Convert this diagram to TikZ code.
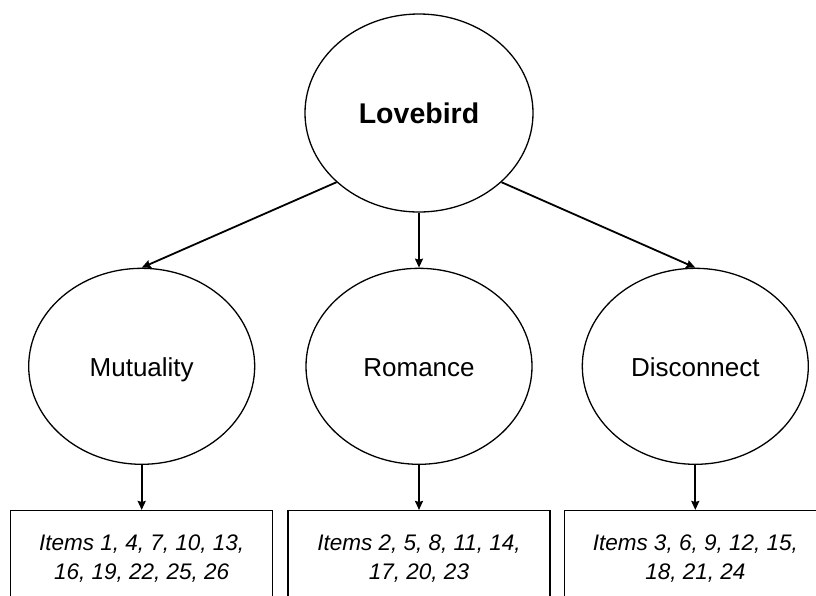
\documentclass[tikz,border=0pt]{standalone}
\usepackage{fontspec}
\setmainfont{Liberation Sans}
\usetikzlibrary{shapes.geometric,positioning,arrows.meta}

\begin{document}
\begin{tikzpicture}
[x=1pt,y=-1pt,
edge/.style={-{Stealth[length=9pt,width=8pt,inset=1pt]},line width=1.8pt},
bubble/.style={draw,ellipse,line width=1.3pt,minimum width=226pt,
minimum height=196pt,inner sep=0pt,text height=20pt,text depth=0pt,
font=\fontsize{26}{31}\selectfont},
itembox/.style={draw,rectangle,line width=1.3pt,minimum width=262pt,
inner ysep=24pt,align=center,font=\fontsize{22.5}{29}\selectfont\itshape}]
\useasboundingbox (0,0) rectangle (816,595);
\clip (0,0) rectangle (816,595);
%%
\node[bubble,minimum width=228pt,minimum height=198pt,
font=\fontsize{28.5}{34}\selectfont\bfseries] (love) at (419,113) {Lovebird};
%%
\node[bubble] (rom) [below=55pt of love] {Romance};
\node[bubble] (mut) [left=50pt of rom] {Mutuality};
\node[bubble] (dis) [right=49pt of rom] {Disconnect};
%%
\node[itembox] (mutitems) [below=45pt of mut] {Items 1, 4, 7, 10, 13,\\16, 19, 22, 25, 26};
\node[itembox] (romitems) [below=45pt of rom] {Items 2, 5, 8, 11, 14,\\17, 20, 23};
\node[itembox] (disitems) [below=45pt of dis] {Items 3, 6, 9, 12, 15,\\18, 21, 24};
%%
\draw[edge] (love.220) -- (mut.north);
\draw[edge] (love.south) -- (rom.north);
\draw[edge] (love.-40) -- (dis.north);
\draw[edge] (mut.south) -- (mutitems.north);
\draw[edge] (rom.south) -- (romitems.north);
\draw[edge] (dis.south) -- (disitems.north);
\end{tikzpicture}
\end{document}
